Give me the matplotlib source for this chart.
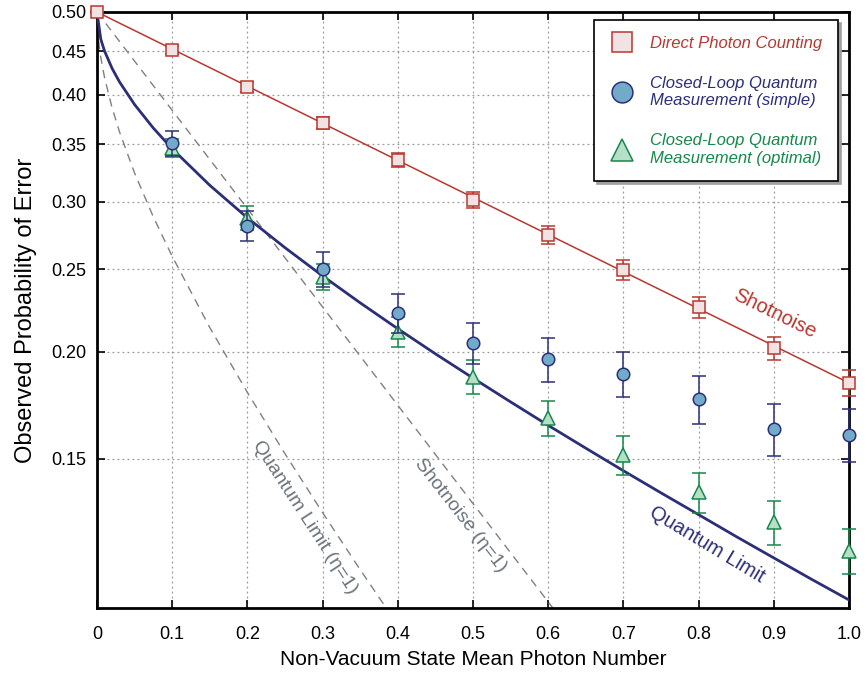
import numpy as np
import matplotlib
matplotlib.use("Agg")
import matplotlib.pyplot as plt
from matplotlib.lines import Line2D
from matplotlib.ticker import FixedLocator, NullLocator

# measured data
n_dpc = [0.0, 0.1, 0.2, 0.3, 0.4, 0.5, 0.6, 0.7, 0.8, 0.9, 1.0]
p_dpc = [0.500, 0.451, 0.4085, 0.371, 0.3355, 0.301, 0.274, 0.2495, 0.2257, 0.202, 0.184]
e_dpc = [0.0, 0.005, 0.0055, 0.006, 0.006, 0.0065, 0.0065, 0.0065, 0.0065, 0.0065, 0.0065]

n_cl = [0.1, 0.2, 0.3, 0.4, 0.5, 0.6, 0.7, 0.8, 0.9, 1.0]
p_simple = [0.351, 0.281, 0.250, 0.222, 0.205, 0.196, 0.1885, 0.176, 0.1625, 0.160]
e_simple = [0.012, 0.0115, 0.012, 0.0115, 0.0115, 0.0115, 0.0115, 0.0115, 0.0115, 0.0115]
p_opt = [0.347, 0.287, 0.245, 0.211, 0.187, 0.1674, 0.1515, 0.137, 0.1265, 0.117]
e_opt = [0.0085, 0.009, 0.0085, 0.0085, 0.0085, 0.008, 0.0078, 0.0075, 0.0075, 0.007]

# theory curves
n_ql = [0.0, 0.005, 0.01, 0.02, 0.03, 0.05, 0.075, 0.1, 0.15, 0.2, 0.25, 0.3, 0.35, 0.4,
        0.45, 0.5, 0.55, 0.6, 0.65, 0.7, 0.75, 0.8, 0.85, 0.9, 0.95, 1.0]
p_ql = [0.5, 0.4647, 0.4501, 0.4296, 0.4140, 0.3896, 0.3656, 0.3458, 0.3134, 0.2871, 0.2649,
        0.2455, 0.2283, 0.2129, 0.1990, 0.1864, 0.1748, 0.1641, 0.1543, 0.1452, 0.1368,
        0.1290, 0.1216, 0.1148, 0.1084, 0.1025]
n_sn = [0.0, 1.0]
p_sn = [0.5, 0.184]
n_ql1 = [0.0, 0.002, 0.005, 0.01, 0.02, 0.03, 0.05, 0.075, 0.1, 0.15, 0.2, 0.25, 0.3, 0.35, 0.4]
p_ql1 = [0.5, 0.4636, 0.4426, 0.4191, 0.3864, 0.3618, 0.3239, 0.2877, 0.2588, 0.2136, 0.1793,
         0.1520, 0.1297, 0.1112, 0.0958]
n_sn1 = [0.0, 0.65]
p_sn1 = [0.5, 0.0893]

yticks = [0.15, 0.20, 0.25, 0.30, 0.35, 0.40, 0.45, 0.50]
xticks = [0, 0.1, 0.2, 0.3, 0.4, 0.5, 0.6, 0.7, 0.8, 0.9, 1.0]
xticklabels = ['0', '0.1', '0.2', '0.3', '0.4', '0.5', '0.6', '0.7', '0.8', '0.9', '1.0']

red = '#b8372f'
red_face = '#f1e3e3'
navy = '#2c2f78'
blue_face = '#72abc9'
green = '#16884b'
green_face = '#b7dec7'
gray_txt = '#6c747c'

plt.rcParams['font.family'] = ['Liberation Sans', 'DejaVu Sans']
narrow = ['Liberation Sans Narrow', 'Liberation Sans', 'DejaVu Sans']

fig = plt.figure(figsize=(8.67, 6.75), dpi=100)
ax = fig.add_axes([97/867, 1-608/675, (849-97)/867, (608-12)/675])
ax.set_yscale('log')

ax.plot(n_ql1, p_ql1, color='#808080', lw=1.0, ls=(0, (6, 4.5)), zorder=2)
ax.plot(n_sn1, p_sn1, color='#808080', lw=1.0, ls=(0, (6, 4.5)), zorder=2)
ax.plot(n_sn, p_sn, color=red, lw=1.1, zorder=3)
ax.plot(n_ql, p_ql, color=navy, lw=2.0, zorder=3)

ax.errorbar(n_dpc, p_dpc, yerr=e_dpc, fmt='s', ms=8, mfc=red_face, mec=red, mew=1.1,
            ecolor=red, elinewidth=1.1, capsize=5, capthick=1.1, zorder=4, clip_on=False)
ax.errorbar(n_cl, p_opt, yerr=e_opt, fmt='^', ms=10.5, mfc=green_face, mec=green, mew=1.1,
            ecolor=green, elinewidth=1.1, capsize=5, capthick=1.1, zorder=5, clip_on=False)
ax.errorbar(n_cl, p_simple, yerr=e_simple, fmt='o', ms=9, mfc=blue_face, mec=navy, mew=1.1,
            ecolor=navy, elinewidth=1.1, capsize=5, capthick=1.1, zorder=6, clip_on=False)

ax.set_xlim(0, 1.0)
ax.set_ylim(0.1003, 0.5)
ax.yaxis.set_major_locator(FixedLocator(yticks))
ax.yaxis.set_minor_locator(NullLocator())
ax.set_yticklabels(['%.2f' % v for v in yticks], fontsize=13)
ax.set_xticks(xticks)
ax.set_xticklabels(xticklabels, fontsize=13, family=narrow)
ax.tick_params(axis='both', direction='in', length=6, width=1.2, top=True, right=True)
ax.tick_params(axis='y', pad=8)
ax.tick_params(axis='x', pad=13)
ax.grid(True, ls=(0, (1.5, 2.5)), color='#9a9a9a', lw=0.9)
for s in ax.spines.values():
    s.set_linewidth(2.0)

ax.set_xlabel('Non-Vacuum State Mean Photon Number', fontsize=15, family=narrow, labelpad=5)
ax.set_ylabel('Observed Probability of Error', fontsize=17, family=narrow, labelpad=10)

ax.text(0.9016, 0.222, 'Shotnoise', color=red, fontsize=14.5, rotation=-26,
        ha='center', va='center', rotation_mode='anchor')
ax.text(0.811, 0.1189, 'Quantum Limit', color=navy, fontsize=14.5, rotation=-31,
        ha='center', va='center', rotation_mode='anchor')
ax.text(0.2766, 0.1282, 'Quantum Limit (η=1)', color=gray_txt, fontsize=14, rotation=-57,
        ha='center', va='center', rotation_mode='anchor')
ax.text(0.4827, 0.1288, 'Shotnoise (η=1)', color=gray_txt, fontsize=14, rotation=-52,
        ha='center', va='center', rotation_mode='anchor')

handles = [
    Line2D([], [], ls='none', marker='s', ms=14, mfc=red_face, mec=red, mew=1.1),
    Line2D([], [], ls='none', marker='o', ms=15, mfc=blue_face, mec=navy, mew=1.1),
    Line2D([], [], ls='none', marker='^', ms=16, mfc=green_face, mec=green, mew=1.1),
]
labels = ['Direct Photon Counting', 'Closed-Loop Quantum\nMeasurement (simple)',
          'Closed-Loop Quantum\nMeasurement (optimal)']
leg = ax.legend(handles, labels, loc='upper right', bbox_to_anchor=(0.9854, 0.9866),
                borderaxespad=0, fancybox=False, shadow={'color': '#a0a0a0', 'alpha': 1},
                edgecolor='black', framealpha=1, prop={'style': 'italic', 'size': 12},
                labelspacing=1.5, handletextpad=1.0, borderpad=0.95, handlelength=1.4)
leg.get_frame().set_linewidth(1.2)
leg.set_zorder(10)
for t, c in zip(leg.get_texts(), [red, navy, green]):
    t.set_color(c)

fig.savefig('out.png', dpi=100)
